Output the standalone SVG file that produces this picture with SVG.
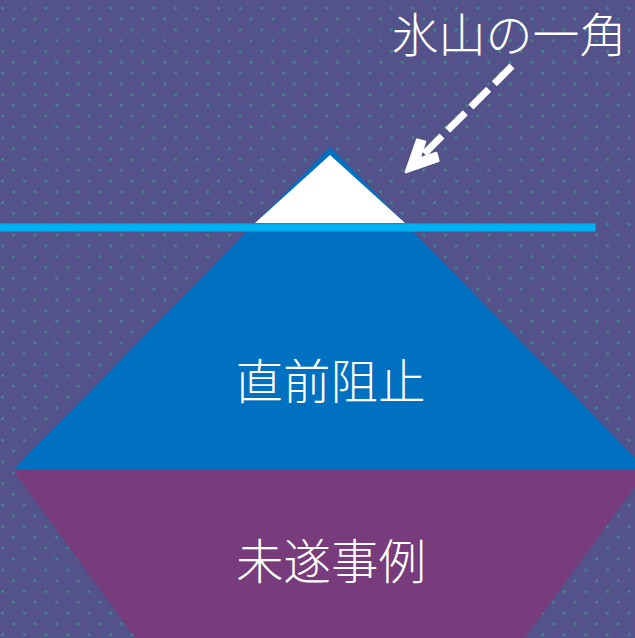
<svg xmlns="http://www.w3.org/2000/svg" width="635" height="638" viewBox="0 0 635 638">
  <style>
    .lbl { font-family: "Noto Sans CJK JP", "Noto Sans", sans-serif; font-size: 47.5px; font-weight: 300; fill: #FFFFFF; text-anchor: middle; }
    .top { font-size: 47px; }
    .arrow { fill: none; stroke: #FFFFFF; stroke-width: 7; stroke-dasharray: 25 8; }
  </style>
  <defs>
    <pattern id="dots" x="0" y="0" width="21.6" height="21.6" patternUnits="userSpaceOnUse">
      <circle cx="2.7" cy="8.3" r="1.4" fill="#3F8B88"/>
      <circle cx="13.5" cy="19.1" r="1.4" fill="#3F8B88"/>
    </pattern>
    <marker id="head" viewBox="-40 -20 44 40" markerWidth="44" markerHeight="40" refX="-20" refY="0" orient="auto" markerUnits="userSpaceOnUse">
      <path d="M0,0 L-31,-15 L-35,-8 L-19,0 L-35,8 L-31,15 Z" fill="#FFFFFF" stroke="#FFFFFF" stroke-width="2.5" stroke-linejoin="round"/>
    </marker>
  </defs>
  <rect x="0" y="0" width="635" height="638" fill="#53528A"/>
  <rect x="0" y="0" width="635" height="638" fill="url(#dots)"/>

  <g id="misui">
    <polygon points="13,470 647,470 523,640 137,640" fill="#783B7C"/>
    <text class="lbl" x="331" y="579">未遂事例</text>
  </g>
  <g id="chokuzen">
    <polygon points="330,147 647,470 13,470" fill="#0070C0"/>
    <text class="lbl" x="330.5" y="399">直前阻止</text>
  </g>
  <g id="tip">
    <polygon points="330,155 405,223 255,223" fill="#FFFFFF"/>
  </g>
  <g id="waterline">
    <rect x="0" y="223.5" width="595.5" height="8" fill="#00B0F0"/>
  </g>
  <g id="label-tip">
    <text class="lbl top" x="509" y="52">氷山の一角</text>
  </g>
  <g id="connectors">
    <path class="arrow" d="M512,66 L420,158" marker-end="url(#head)"/>
  </g>
</svg>
